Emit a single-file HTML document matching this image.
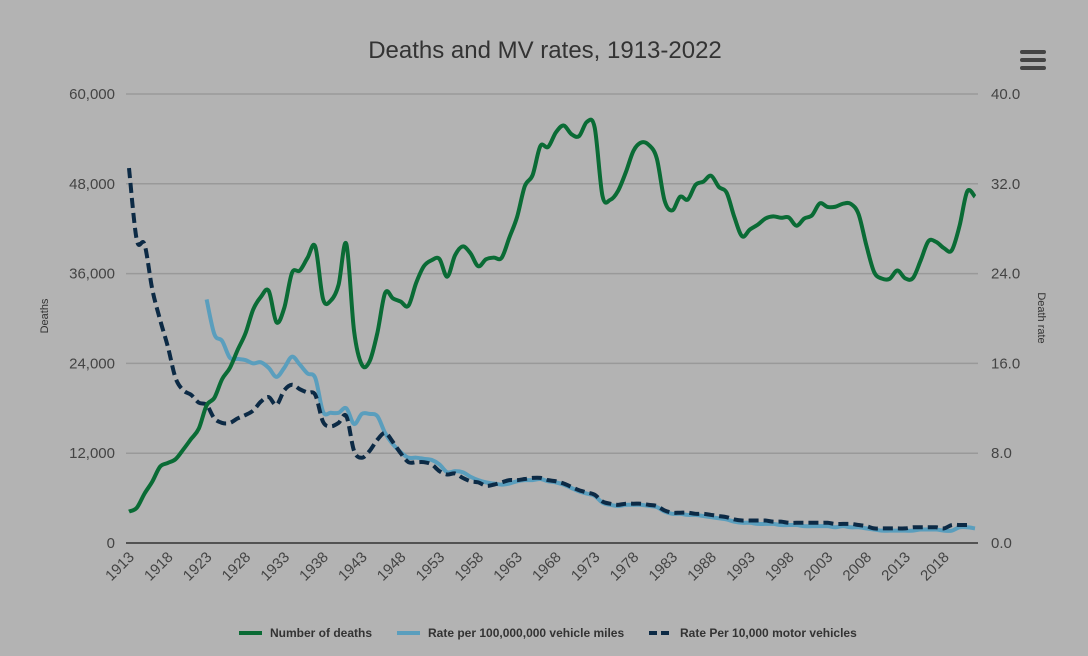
<!DOCTYPE html>
<html><head><meta charset="utf-8"><style>
html,body{margin:0;padding:0;background:#b3b3b3;}
svg{display:block;font-family:"Liberation Sans",sans-serif;}
</style></head><body>
<svg id="chart" width="1088" height="656" viewBox="0 0 1088 656" xmlns="http://www.w3.org/2000/svg">
<rect width="1088" height="656" fill="#b3b3b3"/>
<text x="545" y="58" text-anchor="middle" font-size="24" fill="#333">Deaths and MV rates, 1913-2022</text>
<g>
<rect x="1020" y="50" width="26" height="4" rx="2" fill="#444"/>
<rect x="1020" y="58" width="26" height="4" rx="2" fill="#444"/>
<rect x="1020" y="66" width="26" height="4" rx="2" fill="#444"/>
</g>
<g id="grid"></g>
<g id="yl"></g><g id="yr"></g><g id="xl"></g>
<text transform="translate(48,316) rotate(-90)" text-anchor="middle" font-size="11" fill="#333">Deaths</text>
<text transform="translate(1038,318) rotate(90)" text-anchor="middle" font-size="11" fill="#333">Death rate</text>
<g id="series"></g>
<g font-size="12" font-weight="bold" fill="#333">
<g><line x1="239" y1="633" x2="262" y2="633" stroke="#0a6b35" stroke-width="4"/><text x="270" y="637">Number of deaths</text></g>
<g><line x1="397" y1="633" x2="420" y2="633" stroke="#5a9ebd" stroke-width="4"/><text x="428" y="637">Rate per 100,000,000 vehicle miles</text></g>
<g><line x1="649" y1="633" x2="672" y2="633" stroke="#0c2a45" stroke-width="4" stroke-dasharray="8,4"/><text x="680" y="637">Rate Per 10,000 motor vehicles</text></g>
</g>
</svg>
<script>
const startYear = 1913;
const deaths = [4200,4700,6600,8200,10200,10700,11200,12500,13900,15300,18400,19400,21900,23400,25800,28000,31200,32900,33700,29500,31400,36100,36400,38100,39600,32600,32400,34500,39969,28309,23823,24282,28076,33411,32697,32259,31701,34763,36996,37794,37955,35586,38426,39628,38702,36981,37910,38137,38091,40804,43564,47700,49163,53041,52924,54862,55791,54633,54381,56278,55511,46402,45853,47038,49510,52411,53524,53172,51385,45779,44452,46263,45901,47865,48290,49078,47575,46814,43536,40982,41893,42524,43363,43649,43458,43501,42401,43354,43788,45380,44904,44933,45343,45316,43945,39790,36216,35332,35303,36415,35369,35398,37757,40327,40231,39404,39107,42339,46980,46270];
const mileStart = 1923;
const mileRate = [21.7,18.6,18.0,16.5,16.4,16.3,16.0,16.1,15.6,14.8,15.6,16.6,15.9,15.1,14.7,11.7,11.6,11.6,12.0,10.6,11.5,11.5,11.3,9.8,8.8,8.1,7.6,7.6,7.5,7.4,7.0,6.3,6.4,6.3,5.9,5.6,5.4,5.3,5.2,5.3,5.5,5.6,5.6,5.7,5.5,5.4,5.2,4.9,4.6,4.4,4.2,3.6,3.4,3.3,3.4,3.4,3.4,3.3,3.2,2.8,2.6,2.6,2.5,2.5,2.4,2.3,2.2,2.1,1.9,1.8,1.8,1.7,1.7,1.7,1.6,1.6,1.6,1.5,1.5,1.5,1.5,1.4,1.5,1.4,1.4,1.3,1.2,1.1,1.1,1.1,1.1,1.1,1.2,1.2,1.2,1.1,1.1,1.4,1.4,1.3];
const vehRate = [33.4,27.0,26.6,22.6,19.9,17.5,14.7,13.6,13.2,12.5,12.3,11.1,10.7,10.7,11.1,11.4,11.8,12.6,13.0,12.3,13.6,14.1,13.7,13.4,13.2,10.8,10.4,10.7,11.3,8.2,7.6,8.2,9.2,9.8,9.0,8.0,7.2,7.2,7.2,7.0,6.4,6.1,6.2,5.8,5.5,5.4,5.1,5.2,5.4,5.6,5.6,5.7,5.8,5.8,5.6,5.5,5.3,5.0,4.7,4.5,4.3,3.7,3.5,3.4,3.5,3.5,3.5,3.4,3.3,2.9,2.7,2.7,2.7,2.6,2.6,2.5,2.4,2.3,2.1,2.0,2.0,2.0,2.0,1.9,1.9,1.8,1.8,1.8,1.8,1.8,1.8,1.7,1.7,1.7,1.6,1.5,1.3,1.3,1.3,1.3,1.3,1.4,1.4,1.4,1.4,1.3,1.6,1.6,1.6];
const leftTicks = ["0","12,000","24,000","36,000","48,000","60,000"];
const rightTicks = ["0.0","8.0","16.0","24.0","32.0","40.0"];
const xTickYears = [1913,1918,1923,1928,1933,1938,1943,1948,1953,1958,1963,1968,1973,1978,1983,1988,1993,1998,2003,2008,2013,2018];

const NS = "http://www.w3.org/2000/svg";
const X0=129, X1=975, YT=94, YB=543;
const xS = y => X0 + (y-1913)/(2022-1913)*(X1-X0);
const yL = v => YB - v/60000*(YB-YT);
const yR = v => YB - v/40*(YB-YT);
function mk(tag, attrs, parent){const e=document.createElementNS(NS,tag);for(const k in attrs)e.setAttribute(k,attrs[k]);parent.appendChild(e);return e;}
const grid=document.getElementById('grid'), yl=document.getElementById('yl'), yr=document.getElementById('yr'), xl=document.getElementById('xl'), ser=document.getElementById('series');
leftTicks.forEach((t,i)=>{
  const y = YB - i*(YB-YT)/5;
  const g = mk('line',{x1:126,x2:978,y1:y,y2:y,stroke:i===0?'#333':'#999','stroke-width':i===0?1.5:1.5},grid);
  
  
  const a = mk('text',{x:115,y:y+5,'text-anchor':'end','font-size':15,fill:'#444'},yl); a.textContent=t;
  
  
  const b = mk('text',{x:991,y:y+5,'font-size':15,fill:'#444'},yr); b.textContent=rightTicks[i];
  
  
});
xTickYears.forEach(yv=>{
  const x=xS(yv);
  const t=mk('text',{transform:`translate(${x+6},${558}) rotate(-45)`,'text-anchor':'end','font-size':15,fill:'#444'},xl);
  t.textContent=yv;
  
  
});
function smooth(pts){
  let d=`M${pts[0][0]},${pts[0][1]}`;
  for(let i=0;i<pts.length-1;i++){
    const p0=pts[i-1]||pts[i],p1=pts[i],p2=pts[i+1],p3=pts[i+2]||p2;
    const c1=[p1[0]+(p2[0]-p0[0])/6,p1[1]+(p2[1]-p0[1])/6];
    const c2=[p2[0]-(p3[0]-p1[0])/6,p2[1]-(p3[1]-p1[1])/6];
    d+=` C${c1[0]},${c1[1]} ${c2[0]},${c2[1]} ${p2[0]},${p2[1]}`;
  }
  return d;
}
const p1 = mk('path',{d:smooth(mileRate.map((v,i)=>[xS(mileStart+i),yR(v)])),fill:'none',stroke:'#5a9ebd','stroke-width':4,'stroke-linejoin':'round'},ser);


const p2 = mk('path',{d:smooth(vehRate.map((v,i)=>[xS(startYear+i),yR(v)])),fill:'none',stroke:'#0c2a45','stroke-width':4,'stroke-dasharray':'10,5'},ser);


const p3 = mk('path',{d:smooth(deaths.map((v,i)=>[xS(startYear+i),yL(v)])),fill:'none',stroke:'#0a6b35','stroke-width':4,'stroke-linejoin':'round'},ser);


</script>
</body></html>
